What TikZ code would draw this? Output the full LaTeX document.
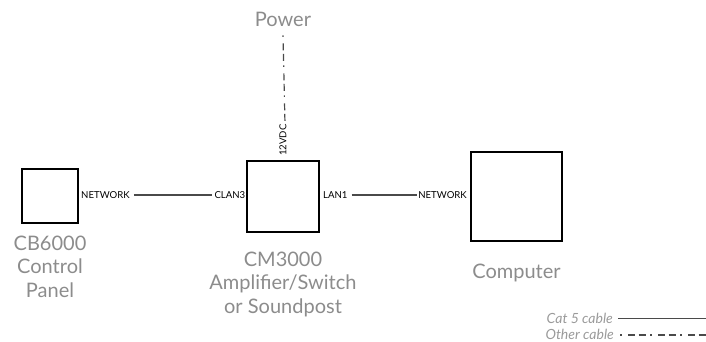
\documentclass[tikz,border=0pt]{standalone}
\usepackage{fontspec}
\setmainfont{Lato}
\definecolor{labelgray}{HTML}{8C8C8C}
\definecolor{leggray}{HTML}{9A9A9A}
\definecolor{wiregray}{HTML}{4A4A4A}
\begin{document}
\begin{tikzpicture}[x=1pt,y=-1pt,
  devbox/.style={draw=black,line width=1.5pt,fill=white,minimum width=#1,inner sep=0pt},
  biglabel/.style={text=labelgray,align=center,inner sep=0pt,font=\fontsize{20}{23.5}\selectfont},
  portlabel/.style={text=black,inner sep=0pt,font=\fontsize{9.6}{10}\selectfont},
  legtext/.style={text=leggray,inner sep=0pt,font=\fontsize{14}{16}\selectfont\itshape},
  cat5/.style={draw=wiregray,line width=1.2pt},
  othercable/.style={draw=wiregray,line width=1.2pt,dash pattern=on 1.5pt off 6.5pt on 7pt off 3.5pt on 7pt off 4.5pt}]
\useasboundingbox (0,0) rectangle (706,341);
\clip (0,0) rectangle (706,341);
% device boxes
\node[devbox=56pt,minimum height=54pt] (cb) at (50,196) {};
\node[devbox=72pt,minimum height=71pt] (cm) at (283,196.5) {};
\node[devbox=91pt,minimum height=89pt] (pc) at (516.5,196.5) {};
% big labels (anchored at the baseline of the last line)
\node[biglabel,anchor=base] (cbl) at (50,297) {CB6000\\Control\\Panel};
\node[biglabel,anchor=base] (cml) at (283,313) {CM3000\\Amplifier/Switch\\or Soundpost};
\node[biglabel,anchor=base] (pcl) at (516.5,278) {Computer};
\node[biglabel,anchor=base] (pw) at (283,26) {Power};
% port labels
\node[portlabel,anchor=west] (cbnet) at (81,195) {NETWORK};
\node[portlabel,anchor=east] (clan) at (245.5,195) {CLAN3};
\node[portlabel,anchor=west] (lan) at (323,195) {LAN1};
\node[portlabel,anchor=east] (pcnet) at (467,195) {NETWORK};
\node[portlabel,rotate=90,anchor=west] (vdc) at (283,156) {12VDC};
% connectors
\draw[cat5] ([xshift=4pt]cbnet.east) -- ([xshift=-2pt]clan.west);
\draw[cat5] ([xshift=4pt]lan.east) -- ([xshift=-1pt]pcnet.west);
\draw[othercable] ([yshift=-9pt]pw.south) -- ([xshift=2pt]vdc.east);
% legend
\node[legtext,anchor=base east] (cat) at (613,323) {Cat 5 cable};
\node[legtext,anchor=base east] (oth) at (614,339.5) {Other cable};
\coordinate (catend) at (706,318.5);
\coordinate (othend) at (706,335);
\draw[cat5] ([xshift=5pt]cat.east |- catend) -- (catend);
\draw[othercable] ([xshift=6pt]oth.east |- othend) -- (othend);
\end{tikzpicture}
\end{document}
